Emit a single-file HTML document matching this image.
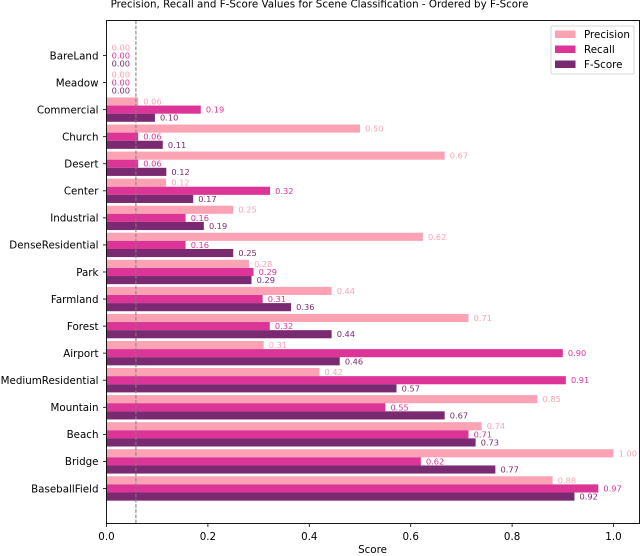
<!DOCTYPE html>
<html>
<head>
<meta charset="utf-8">
<style>
html,body{margin:0;padding:0;background:#fff;width:640px;height:556px;overflow:hidden}
svg{display:block;font-family:"DejaVu Sans","Liberation Sans",sans-serif}
</style>
</head>
<body>
<svg id="chart" width="640" height="556" viewBox="0 0 640 556" xmlns="http://www.w3.org/2000/svg">
  <text x="319.5" y="7.5" font-size="10.3" text-anchor="middle" fill="#000">Precision, Recall and F-Score Values for Scene Classification - Ordered by F-Score</text>
  <g id="bars"></g>
  <g id="labels"></g>
  <line id="threshold" y1="20.5" y2="523.5" stroke="#7f7f7f" stroke-opacity="0.8" stroke-width="1.3" stroke-dasharray="3.6 1.6"></line>
  <g id="axes"></g>
  <rect x="106.5" y="20.5" width="533" height="503" fill="none" stroke="#000" stroke-width="0.9"></rect>
  <text x="372.5" y="553" font-size="10.3" text-anchor="middle" fill="#000">Score</text>
  <g>
    <rect x="551" y="26" width="83" height="48" rx="1.5" fill="#fff" fill-opacity="0.8" stroke="#ccc" stroke-width="0.8"></rect>
    <rect x="555" y="30.5" width="20.5" height="7.5" fill="#fba3b5"></rect>
    <text x="584" y="38" font-size="10.3" fill="#000">Precision</text>
    <rect x="555" y="45.5" width="20.5" height="7.5" fill="#dd3497"></rect>
    <text x="584" y="53" font-size="10.3" fill="#000">Recall</text>
    <rect x="555" y="60.5" width="20.5" height="7.5" fill="#7a2a70"></rect>
    <text x="584" y="68" font-size="10.3" fill="#000">F-Score</text>
  </g>
</svg>
<script>
const categories = ["BareLand","Meadow","Commercial","Church","Desert","Center","Industrial","DenseResidential","Park","Farmland","Forest","Airport","MediumResidential","Mountain","Beach","Bridge","BaseballField"];
const precision = [0,0,0.0625,0.50,0.667,0.1176,0.25,0.624,0.281,0.444,0.714,0.31,0.42,0.85,0.74,1.00,0.88];
const recall = [0,0,0.186,0.0625,0.0625,0.3226,0.156,0.156,0.29,0.308,0.322,0.90,0.906,0.55,0.714,0.62,0.97];
const fscore = [0,0,0.0955,0.111,0.118,0.171,0.192,0.25,0.286,0.364,0.444,0.46,0.572,0.667,0.728,0.767,0.923];
const xTicks = [0,0.2,0.4,0.6,0.8,1.0];
const thresholdValue = 0.058;

const NS = 'http://www.w3.org/2000/svg';
function xScale(v){ return 106.5 + v * 507; }
function yScale(i){ return 55.5 + i * 27.06; }
const BAR_H = 8.12;
const seriesList = [
  {key:'precision', values:precision, color:'#fba3b5', text:'#fba3b5', offset:-1},
  {key:'recall', values:recall, color:'#dd3497', text:'#dd3497', offset:0},
  {key:'f-score', values:fscore, color:'#7a2a70', text:'#7a2a70', offset:1}
];
const barsG = document.getElementById('bars');
const labelsG = document.getElementById('labels');
const axesG = document.getElementById('axes');

seriesList.forEach(function(s){
  s.values.forEach(function(v,i){
    const cy = yScale(i) + s.offset * BAR_H;
    const r = document.createElementNS(NS,'rect');
    
    
    r.setAttribute('x', xScale(0));
    r.setAttribute('y', cy - BAR_H/2);
    r.setAttribute('width', xScale(v) - xScale(0));
    r.setAttribute('height', BAR_H);
    r.setAttribute('fill', s.color);
    barsG.appendChild(r);
    const t = document.createElementNS(NS,'text');
    
    
    t.setAttribute('x', xScale(v) + 5.1);
    t.setAttribute('y', cy + 3);
    t.setAttribute('font-size', '8.24');
    t.setAttribute('fill', s.text);
    t.textContent = v.toFixed(2);
    labelsG.appendChild(t);
  });
});

const th = document.getElementById('threshold');
th.setAttribute('x1', xScale(thresholdValue));
th.setAttribute('x2', xScale(thresholdValue));

categories.forEach(function(c,i){
  const y = yScale(i);
  const tk = document.createElementNS(NS,'line');
  
  
  tk.setAttribute('x1', 103);
  tk.setAttribute('x2', 106.5);
  tk.setAttribute('y1', y);
  tk.setAttribute('y2', y);
  tk.setAttribute('stroke', '#000');
  tk.setAttribute('stroke-width', '0.8');
  axesG.appendChild(tk);
  const t = document.createElementNS(NS,'text');
  
  
  t.setAttribute('x', 98.5);
  t.setAttribute('y', y + 3.8);
  t.setAttribute('font-size', '10.3');
  t.setAttribute('text-anchor', 'end');
  t.setAttribute('fill', '#000');
  t.textContent = c;
  axesG.appendChild(t);
});

xTicks.forEach(function(v){
  const x = xScale(v);
  const tk = document.createElementNS(NS,'line');
  
  
  tk.setAttribute('x1', x);
  tk.setAttribute('x2', x);
  tk.setAttribute('y1', 523.5);
  tk.setAttribute('y2', 527);
  tk.setAttribute('stroke', '#000');
  tk.setAttribute('stroke-width', '0.8');
  axesG.appendChild(tk);
  const t = document.createElementNS(NS,'text');
  
  
  t.setAttribute('x', x);
  t.setAttribute('y', 540);
  t.setAttribute('font-size', '10.3');
  t.setAttribute('text-anchor', 'middle');
  t.setAttribute('fill', '#000');
  t.textContent = v.toFixed(1);
  axesG.appendChild(t);
});
</script>
</body>
</html>
